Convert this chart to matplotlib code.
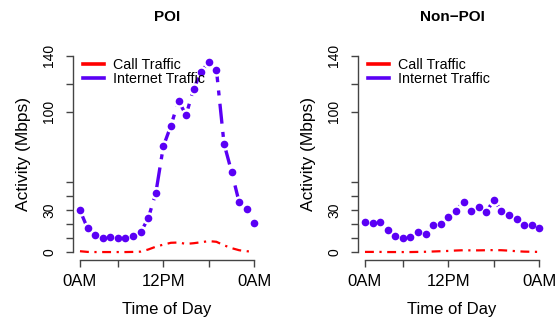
import matplotlib
matplotlib.use("Agg")
import matplotlib.pyplot as plt
import numpy as np

plt.rcParams["font.family"] = ["Liberation Sans", "DejaVu Sans"]

HOURS = np.arange(1, 25)
X_TICKS = [1, 6, 12, 18, 24]
X_LABELS = ["0AM", "", "12PM", "", "0AM"]
Y_TICKS = [0, 10, 20, 30, 40, 50, 100, 120, 140]
Y_LABELS = ["0", "", "", "30", "", "", "100", "", "140"]

POI_INTERNET = [29.9, 17.1, 12.6, 10.4, 10.9, 10.0, 10.0, 11.9, 14.2, 24.2, 42.0, 75.5,
                90.2, 107.7, 97.8, 116.5, 128.6, 135.5, 130.0, 77.4, 57.4, 35.6, 31.1, 20.6]
POI_CALL = [0.8, 0.3, 0.2, 0.2, 0.2, 0.2, 0.2, 0.3, 0.5, 2.0, 4.0, 5.5,
            6.8, 7.0, 6.0, 6.5, 7.2, 8.0, 7.5, 5.0, 3.0, 1.5, 0.8, 0.3]
NONPOI_INTERNET = [21.6, 20.9, 21.6, 15.7, 11.9, 10.2, 11.2, 14.5, 12.8, 19.7, 20.4, 25.4,
                   29.7, 35.8, 29.2, 32.3, 28.5, 37.5, 29.4, 26.8, 24.0, 19.5, 19.2, 17.1]
NONPOI_CALL = [0.3, 0.3, 0.3, 0.2, 0.2, 0.2, 0.2, 0.3, 0.4, 0.6, 0.8, 1.0,
               1.3, 1.5, 1.4, 1.4, 1.5, 1.6, 1.5, 1.2, 0.8, 0.5, 0.4, 0.3]

RED = "#FF0000"
BLUE = "#5A00F5"
AXIS_COLOR = "#444444"


def draw_panel(ax, title, internet, call):
    ax.plot(HOURS, call, color=RED, lw=1.6, dashes=(4, 2.5, 1, 2.5), zorder=2)
    ax.plot(HOURS, internet, color=BLUE, lw=2.4, dashes=(6, 2.5, 1.5, 2.5), zorder=2)
    ax.plot(HOURS, internet, ls="none", marker="o", ms=9, color="white", mew=0, zorder=3)
    ax.plot(HOURS, internet, ls="none", marker="o", ms=5.5, color=BLUE, mew=0, zorder=4)

    ax.set_xlim(0.08, 24.92)
    ax.set_ylim(-5.6, 145.6)
    for side in ["top", "right"]:
        ax.spines[side].set_visible(False)
    ax.spines["left"].set_bounds(0, 140)
    ax.spines["bottom"].set_bounds(1, 24)
    for side in ["left", "bottom"]:
        ax.spines[side].set_color(AXIS_COLOR)
        ax.spines[side].set_linewidth(1.0)

    ax.set_xticks(X_TICKS)
    ax.set_xticklabels(X_LABELS, fontsize=12)
    ax.set_yticks(Y_TICKS)
    ax.set_yticklabels(Y_LABELS, fontsize=10, rotation=90, va="center")
    ax.tick_params(axis="both", length=5, width=1.0, color=AXIS_COLOR, direction="out")
    ax.tick_params(axis="x", pad=5)
    ax.tick_params(axis="y", pad=7)

    ax.set_xlabel("Time of Day", fontsize=12, labelpad=9)
    ax.set_ylabel("Activity (Mbps)", fontsize=12.5, labelpad=8)
    ax.set_title(title, fontsize=11, fontweight="bold", pad=19)

    handles = [plt.Line2D([], [], color=RED, lw=2.6),
               plt.Line2D([], [], color=BLUE, lw=2.6)]
    ax.legend(handles, ["Call Traffic", "Internet Traffic"], loc="upper left",
              bbox_to_anchor=(0.0, 1.0), frameon=False, fontsize=10.3,
              handlelength=1.5, handletextpad=0.6, labelspacing=0.0,
              borderaxespad=0.3)


fig = plt.figure(figsize=(5.55, 3.29), dpi=100)
ax1 = fig.add_axes([73 / 555, 68.8 / 329, 188.3 / 555, 212.4 / 329])
ax2 = fig.add_axes([358 / 555, 68.8 / 329, 188.3 / 555, 212.4 / 329])

draw_panel(ax1, "POI", POI_INTERNET, POI_CALL)
draw_panel(ax2, "Non\u2212POI", NONPOI_INTERNET, NONPOI_CALL)

fig.savefig("out.png", dpi=100)
